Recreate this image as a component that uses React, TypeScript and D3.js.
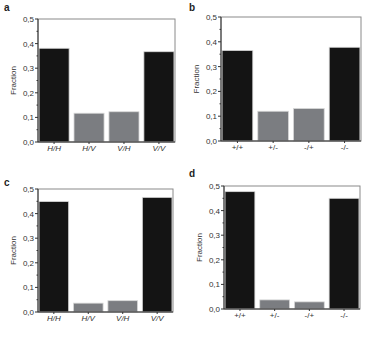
import React from "react";
import * as d3 from "d3";

const hvLabels = ["H/H", "H/V", "V/H", "V/V"];
const pmLabels = ["+/+", "+/-", "-/+", "-/-"];
const valuesA = [0.381, 0.117, 0.123, 0.367];
const valuesB = [0.365, 0.12, 0.131, 0.378];
const valuesC = [0.449, 0.036, 0.046, 0.466];
const valuesD = [0.477, 0.037, 0.029, 0.45];
const yTicks = [0, 0.1, 0.2, 0.3, 0.4, 0.5];
const minorTicks = [0.05, 0.15, 0.25, 0.35, 0.45];
const barColors = ["#141414", "#7b7d81", "#7b7d81", "#141414"];

const font = "Liberation Sans, Arial, sans-serif";

type PanelProps = {
  letter: string;
  labels: string[];
  values: number[];
  italic: boolean;
  left: number;
  right: number;
  top: number;
  bottom: number;
  letterX: number;
  letterY: number;
};

const Panel = ({ letter, labels, values, italic, left, right, top, bottom, letterX, letterY }: PanelProps) => {
  const x = d3.scaleBand().domain(labels).range([left, right]).paddingInner(0.14).paddingOuter(0.03);
  const y = d3.scaleLinear().domain([0, 0.5]).range([bottom, top]);
  const fmt = (d: number) => d3.format(".1f")(d).replace(".", ",");

  return (
    <g>
      <text x={letterX} y={letterY} fontFamily={font} fontWeight="bold" fontSize={10} fill="#222">
        {letter}
      </text>
      {labels.map((l, i) => (
        <rect
          key={l}
          x={x(l)}
          y={y(values[i])}
          width={x.bandwidth()}
          height={y(0) - y(values[i])}
          fill={barColors[i]}
          stroke="#d8d8d8"
          strokeWidth={0.8}
        />
      ))}
      <rect x={left} y={top} width={right - left} height={bottom - top} fill="none" stroke="#8a8a8a" strokeWidth={1} />
      <line x1={left} x2={left} y1={top} y2={bottom} stroke="#333" strokeWidth={1} />
      <line x1={left} x2={right} y1={bottom} y2={bottom} stroke="#333" strokeWidth={1} />
      {yTicks.map((t) => (
        <g key={t}>
          <line x1={left - 3} x2={left} y1={y(t)} y2={y(t)} stroke="#333" />
          <text x={left - 4} y={y(t) + 3} textAnchor="end" fontFamily={font} fontSize={8} fill="#333">
            {fmt(t)}
          </text>
        </g>
      ))}
      {minorTicks.map((t) => (
        <line key={t} x1={left - 1.5} x2={left} y1={y(t)} y2={y(t)} stroke="#333" />
      ))}
      {labels.map((l) => (
        <g key={l}>
          <line x1={x(l)! + x.bandwidth() / 2} x2={x(l)! + x.bandwidth() / 2} y1={bottom} y2={bottom + 2} stroke="#333" />
          <text
            x={x(l)! + x.bandwidth() / 2}
            y={bottom + 9}
            textAnchor="middle"
            fontFamily={font}
            fontSize={8}
            fontStyle={italic ? "italic" : "normal"}
            fill="#333"
          >
            {l}
          </text>
        </g>
      ))}
      <text
        transform={`translate(${left - 22},${(top + bottom) / 2}) rotate(-90)`}
        textAnchor="middle"
        fontFamily={font}
        fontSize={8}
        fill="#333"
      >
        Fraction
      </text>
    </g>
  );
};

export default function App() {
  return (
    <svg width={374} height={337} style={{ position: "absolute", left: 0, top: 0, background: "#fff" }}>
      <Panel letter="a" labels={hvLabels} values={valuesA} italic left={38} right={175} top={19} bottom={142} letterX={4} letterY={11} />
      <Panel letter="b" labels={pmLabels} values={valuesB} italic={false} left={221} right={361} top={17} bottom={141} letterX={189} letterY={11} />
      <Panel letter="c" labels={hvLabels} values={valuesC} italic left={38} right={173} top={189} bottom={312} letterX={4} letterY={186} />
      <Panel letter="d" labels={pmLabels} values={valuesD} italic={false} left={224} right={360} top={186} bottom={309} letterX={189} letterY={177} />
    </svg>
  );
}
